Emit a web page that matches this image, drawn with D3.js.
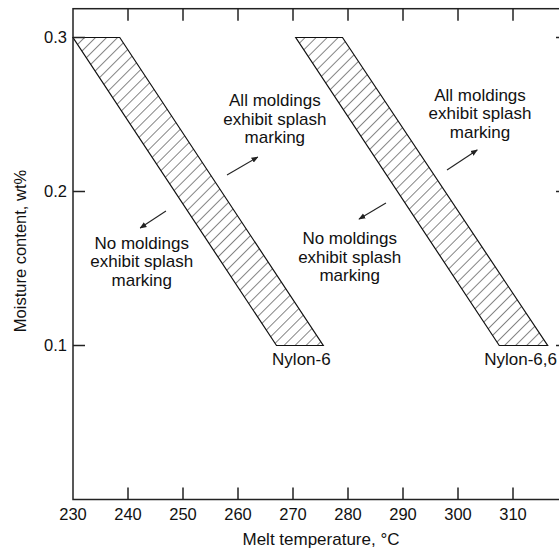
<!DOCTYPE html>
<html>
<head>
<meta charset="utf-8">
<script src="https://cdn.jsdelivr.net/npm/d3@7"></script>
<style>
  html, body { margin: 0; padding: 0; background: #fff; }
  svg { display: block; }
  text { font-family: "Liberation Sans", Arial, Helvetica, sans-serif; fill: #111; }
</style>
</head>
<body>
<svg id="chart" width="559" height="552"></svg>
<script>
// ---- data ----
const xTicks = [230, 240, 250, 260, 270, 280, 290, 300, 310];
const yTicks = [0.1, 0.2, 0.3];
const yTickLabels = ["0.1", "0.2", "0.3"];
const bandMoisture = [0.3, 0.1];          // top, bottom of each band
const nylon6Top = [230, 238.5];           // temperatures at 0.3 wt%
const nylon6Bottom = [267, 275.5];        // temperatures at 0.1 wt%
const nylon66Top = [270.5, 279];
const nylon66Bottom = [307.5, 316.3];
const bandNames = ["Nylon-6", "Nylon-6,6"];
const annotationTexts = [
  ["All moldings", "exhibit splash", "marking"],
  ["No moldings", "exhibit splash", "marking"],
  ["All moldings", "exhibit splash", "marking"],
  ["No moldings", "exhibit splash", "marking"]
];
const annotationAnchors = [[266.7, 0.2555], [242.5, 0.1627], [304.0, 0.2588], [280.3, 0.1659]];
const arrowTails = [[258.0, 0.2107], [246.9, 0.1873], [298.0, 0.2140], [286.9, 0.1925]];
const arrowHeads = [[263.6, 0.2224], [242.2, 0.1763], [303.5, 0.2270], [282.0, 0.1821]];
const xTitle = "Melt temperature, °C";
const yTitle = "Moisture content, wt%";

// ---- scales ----
const W = 559;
const svg = d3.select("#chart");
const x = d3.scaleLinear().domain([230, 320]).range([73, 568]);
const y = d3.scaleLinear().domain([0, 0.3187]).range([499.5, 8.7]);
const [x0, x1] = x.range();
const [yb, yt] = y.range();

const defs = svg.append("defs");
defs.append("pattern")
  .attr("id", "hatch")
  .attr("patternUnits", "userSpaceOnUse")
  .attr("width", 7.8).attr("height", 7.8)
  .attr("patternTransform", "rotate(45)")
  .append("line")
  .attr("x1", 0).attr("y1", -1).attr("x2", 0).attr("y2", 9)
  .attr("stroke", "#222").attr("stroke-width", 1.1);
defs.append("marker")
  .attr("id", "arrow")
  .attr("viewBox", "0 0 10 10")
  .attr("refX", 9).attr("refY", 5)
  .attr("markerWidth", 7).attr("markerHeight", 7)
  .attr("markerUnits", "userSpaceOnUse")
  .attr("orient", "auto")
  .append("path").attr("d", "M0,1 L10,5 L0,9 Z").attr("fill", "#222");

// ---- bands ----
const bands = [
  { name: bandNames[0], top: nylon6Top, bottom: nylon6Bottom },
  { name: bandNames[1], top: nylon66Top, bottom: nylon66Bottom }
];
bands.forEach(b => {
  const pts = [
    [x(b.top[0]), y(bandMoisture[0])],
    [x(b.top[1]), y(bandMoisture[0])],
    [x(b.bottom[1]), y(bandMoisture[1])],
    [x(b.bottom[0]), y(bandMoisture[1])]
  ];
  svg.append("path")
    .attr("d", d3.line()(pts) + "Z")
    .attr("fill", "url(#hatch)")
    .attr("stroke", "#111")
    .attr("stroke-width", 1.2)
    .attr("stroke-linejoin", "miter");
  const lbl = svg.append("text")
    .attr("y", y(bandMoisture[1]) + 20)
    .attr("text-anchor", "middle")
    .attr("font-size", 17)
    .text(b.name);
  const w = lbl.node().getComputedTextLength();
  const cx = Math.min((x(b.bottom[0]) + x(b.bottom[1])) / 2 + 1.5, W - w / 2 - 2);
  lbl.attr("x", cx);
});

// ---- axes frame + inward ticks ----
const axisG = svg.append("g");
axisG.append("rect")
  .attr("x", x0).attr("y", yt).attr("width", x1 - x0).attr("height", yb - yt)
  .attr("fill", "none").attr("stroke", "#222").attr("stroke-width", 1.5);

const tickLen = 12;
const innerX = xTicks.filter(t => t !== 230);
axisG.selectAll(".tb").data(innerX).join("line")
  .attr("x1", d => x(d)).attr("x2", d => x(d))
  .attr("y1", yb).attr("y2", yb - tickLen)
  .attr("stroke", "#222").attr("stroke-width", 1.5);
axisG.selectAll(".tt").data(innerX).join("line")
  .attr("x1", d => x(d)).attr("x2", d => x(d))
  .attr("y1", yt).attr("y2", yt + tickLen)
  .attr("stroke", "#222").attr("stroke-width", 1.5);
axisG.selectAll(".tl").data(yTicks).join("line")
  .attr("x1", x0).attr("x2", x0 + tickLen)
  .attr("y1", d => y(d)).attr("y2", d => y(d))
  .attr("stroke", "#222").attr("stroke-width", 1.5);
axisG.selectAll(".tr").data(yTicks).join("line")
  .attr("x1", x1).attr("x2", x1 - tickLen)
  .attr("y1", d => y(d)).attr("y2", d => y(d))
  .attr("stroke", "#222").attr("stroke-width", 1.5);

// tick labels
svg.selectAll(".xl").data(xTicks).join("text")
  .attr("x", d => x(d)).attr("y", yb + 20)
  .attr("text-anchor", "middle").attr("font-size", 16.5)
  .text(d => d);
svg.selectAll(".yl").data(yTicks).join("text")
  .attr("x", x0 - 6).attr("y", d => y(d)).attr("dy", "0.36em")
  .attr("text-anchor", "end").attr("font-size", 16.5)
  .text((d, i) => yTickLabels[i]);

// axis titles
svg.append("text")
  .attr("x", 321).attr("y", 545)
  .attr("text-anchor", "middle").attr("font-size", 17)
  .text(xTitle);
svg.append("text")
  .attr("transform", "translate(26," + 251 + ") rotate(-90)")
  .attr("text-anchor", "middle").attr("font-size", 16.5)
  .text(yTitle);

// ---- annotations ----
annotationTexts.forEach((lines, i) => {
  const t = svg.append("text")
    .attr("x", x(annotationAnchors[i][0]))
    .attr("y", y(annotationAnchors[i][1]))
    .attr("text-anchor", "middle").attr("font-size", 17);
  lines.forEach((s, j) => {
    t.append("tspan")
      .attr("x", x(annotationAnchors[i][0]))
      .attr("dy", j === 0 ? 0 : 18.5)
      .text(s);
  });
});
arrowTails.forEach((tl, i) => {
  svg.append("line")
    .attr("x1", x(tl[0])).attr("y1", y(tl[1]))
    .attr("x2", x(arrowHeads[i][0])).attr("y2", y(arrowHeads[i][1]))
    .attr("stroke", "#222").attr("stroke-width", 1.1)
    .attr("marker-end", "url(#arrow)");
});
</script>
</body>
</html>
